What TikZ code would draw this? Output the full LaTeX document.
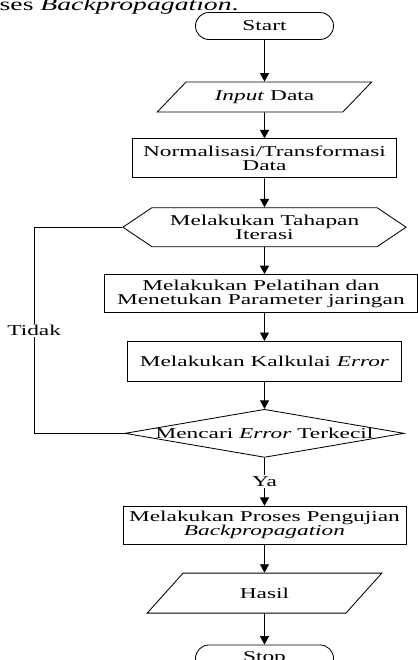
\documentclass[tikz,border=0pt]{standalone}
\usepackage{fontspec}
\setmainfont{Liberation Serif}[FakeStretch=1.55]
\usetikzlibrary{shapes.geometric, shapes.misc, shapes.symbols, arrows.meta, positioning}

\begin{document}
\begin{tikzpicture}[
    x=0.025cm, y=-0.025cm,
    font=\fontsize{10.7}{9.8}\selectfont,
    line width=0.6pt,
    terminal/.style={draw, rounded rectangle, minimum width=3.45cm,
                minimum height=0.675cm, inner sep=0pt},
    iobox/.style={draw, trapezium, trapezium stretches=true, inner sep=0pt},
    box/.style={draw, rectangle, align=center, inner sep=0pt},
    loopbox/.style={draw, signal, signal to=west and east, signal pointer angle=68,
                minimum width=7.075cm, minimum height=0.975cm, align=center, inner sep=0pt},
    decision/.style={draw, diamond, shape aspect=5.8, inner sep=0pt},
    arrow/.style={-{Triangle[width=6.4pt,length=6pt]}},
    tag/.style={fill=white, inner sep=1pt}
]
    \useasboundingbox (0,0) rectangle (418,660);

    \node[anchor=base east, inner sep=0pt, font=\fontsize{12.7}{14}\selectfont]
        (caption) at (239,10) {Proses \textit{Backpropagation}.};

    \node[terminal] (start) at (264.5,26) {Start};
    \node[iobox, below=1.04cm of start, trapezium left angle=35.5, trapezium right angle=144.5,
          minimum width=5.375cm, minimum height=0.75cm] (input) {\textit{Input} Data};
    \node[box, below=0.65cm of input, minimum width=6.6cm, minimum height=0.975cm]
        (normal) {Normalisasi/Transformasi\\Data};
    \node[loopbox, below=0.725cm of normal] (iterasi) {Melakukan Tahapan\\Iterasi};
    \node[box, below=0.675cm of iterasi, xshift=-0.09cm, minimum width=7.8cm, minimum height=0.95cm]
        (latih) {Melakukan Pelatihan dan\\Menetukan Parameter jaringan};
    \node[box, below=0.7cm of latih, xshift=0.09cm, minimum width=6.85cm, minimum height=1cm]
        (kalkulasi) {Melakukan Kalkulai \textit{Error}};
    \node[decision, below=0.675cm of kalkulasi] (cek) {Mencari \textit{Error} Terkecil};
    \node[box, below=1.2cm of cek, minimum width=7.075cm, minimum height=0.95cm]
        (uji) {Melakukan Proses Pengujian\\\textit{Backpropagation}};
    \node[iobox, below=0.7cm of uji, trapezium left angle=44.3, trapezium right angle=135.7,
          minimum width=5.875cm, minimum height=1cm] (hasil) {Hasil};
    \node[terminal, below=0.775cm of hasil] (stop) {Stop};

    \draw[arrow] (start) -- (input);
    \draw[arrow] (input) -- (normal);
    \draw[arrow] (normal) -- (iterasi);
    \draw[arrow] (iterasi.south) -- (iterasi.south |- latih.north);
    \draw[arrow] (kalkulasi.north |- latih.south) -- (kalkulasi);
    \draw[arrow] (kalkulasi) -- (cek);
    \draw[arrow] (cek) -- node[tag] {Ya} (uji);
    \draw[arrow] (uji) -- (hasil);
    \draw[arrow] (hasil) -- (stop);

    \draw (cek.west) -| node[tag, pos=0.75] {Tidak} ([xshift=-2.2cm]iterasi.west) -- (iterasi.west);
\end{tikzpicture}
\end{document}
